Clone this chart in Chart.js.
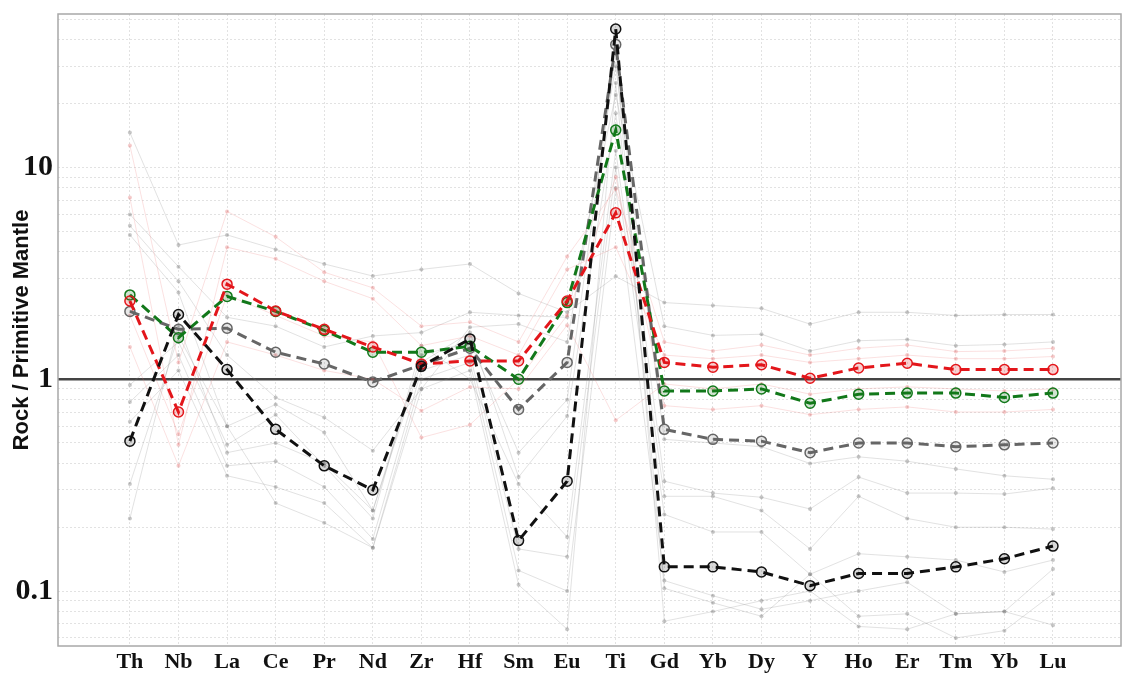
<!DOCTYPE html>
<html>
<head>
<meta charset="utf-8">
<script src="https://cdn.jsdelivr.net/npm/chart.js@4/dist/chart.umd.min.js"></script>
<style>
  html, body { margin: 0; padding: 0; background: #fff; }
  #wrap { width: 1122px; height: 677px; }
</style>
</head>
<body>
<div id="wrap"><canvas id="spider"></canvas></div>
<script>
// element order on the x axis (Yb appears twice in the original)
var elements = ["Th","Nb","La","Ce","Pr","Nd","Zr","Hf","Sm","Eu","Ti","Gd","Yb","Dy","Y","Ho","Er","Tm","Yb","Lu"];

// highlighted samples (rock / primitive mantle)
var blackSample = [0.51, 2.02, 1.11, 0.58, 0.39, 0.30, 1.15, 1.55, 0.173, 0.33, 45, 0.13, 0.13, 0.123, 0.106, 0.121, 0.121, 0.130, 0.142, 0.163];
var redSample   = [2.34, 0.70, 2.81, 2.10, 1.72, 1.42, 1.18, 1.22, 1.22, 2.34, 6.1, 1.20, 1.14, 1.17, 1.01, 1.13, 1.19, 1.11, 1.11, 1.11];
var greenSample = [2.50, 1.57, 2.46, 2.09, 1.70, 1.34, 1.34, 1.43, 1.00, 2.30, 15, 0.88, 0.88, 0.90, 0.77, 0.85, 0.86, 0.86, 0.82, 0.86];
var greySample  = [2.09, 1.72, 1.74, 1.34, 1.18, 0.97, 1.17, 1.40, 0.72, 1.20, 38, 0.58, 0.52, 0.51, 0.45, 0.50, 0.50, 0.48, 0.49, 0.50];

// faint background samples
var faintGreyA = [14.6, 4.3, 4.8, 4.1, 3.5, 3.07, 3.3, 3.5, 2.54, 2.07, 3.06, 2.3, 2.23, 2.16, 1.82, 2.07, 2.07, 2.0, 2.02, 2.02];
var faintGreyB = [6.0, 3.4, 1.96, 1.78, 1.42, 1.6, 1.66, 2.07, 2.0, 1.96, 22, 1.78, 1.61, 1.63, 1.36, 1.52, 1.54, 1.44, 1.46, 1.5];
var faintGreyC = [5.3, 2.9, 1.3, 0.82, 0.66, 0.46, 0.9, 1.76, 1.82, 1.5, 30, 0.52, 0.5, 0.48, 0.4, 0.43, 0.41, 0.377, 0.35, 0.337];
var faintGreyD = [4.8, 2.57, 0.6, 0.76, 0.56, 0.24, 1.2, 1.66, 0.345, 0.67, 18, 0.33, 0.29, 0.277, 0.244, 0.345, 0.29, 0.29, 0.287, 0.306];
var faintGreyE = [0.94, 1.5, 0.49, 0.68, 0.39, 0.22, 1.44, 1.0, 0.32, 0.18, 12, 0.28, 0.28, 0.24, 0.158, 0.28, 0.22, 0.2, 0.2, 0.196];
var faintGreyF = [0.78, 1.3, 0.39, 0.41, 0.31, 0.176, 1.1, 1.3, 0.158, 0.145, 10, 0.23, 0.19, 0.19, 0.12, 0.15, 0.145, 0.14, 0.123, 0.14];
var faintGreyG = [0.63, 1.1, 0.35, 0.31, 0.26, 0.16, 1.0, 1.2, 0.125, 0.1, 8, 0.112, 0.095, 0.082, 0.09, 0.1, 0.11, 0.078, 0.08, 0.127];
var faintGreyH = [0.32, 1.6, 0.6, 0.26, 0.21, 0.16, 0.9, 1.1, 0.107, 0.066, 25, 0.103, 0.088, 0.076, 0.12, 0.076, 0.078, 0.06, 0.065, 0.097];
var faintGreyI = [0.22, 1.8, 0.45, 0.5, 0.4, 0.24, 1.3, 1.5, 0.45, 0.8, 35, 0.072, 0.08, 0.09, 0.1, 0.068, 0.066, 0.078, 0.08, 0.069];
var faintPinkA = [12.7, 1.2, 6.2, 4.7, 3.2, 2.7, 1.78, 1.86, 1.5, 3.8, 7.9, 1.5, 1.36, 1.45, 1.3, 1.4, 1.45, 1.35, 1.36, 1.4];
var faintPinkB = [7.2, 0.49, 4.2, 3.7, 2.9, 2.4, 1.44, 1.6, 1.3, 3.3, 4.2, 1.3, 1.25, 1.3, 1.2, 1.25, 1.3, 1.25, 1.25, 1.28];
var faintPinkC = [1.42, 0.39, 1.5, 1.3, 1.1, 1.0, 0.71, 0.92, 0.9, 1.8, 0.64, 0.95, 0.9, 0.95, 0.85, 0.9, 0.92, 0.9, 0.88, 0.9];
var faintPinkD = [2.0, 0.55, 2.5, 2.0, 1.6, 1.5, 0.53, 0.61, 1.0, 2.0, 9, 0.75, 0.72, 0.75, 0.68, 0.72, 0.74, 0.7, 0.7, 0.72];

var faintGrey = [faintGreyA, faintGreyB, faintGreyC, faintGreyD, faintGreyE, faintGreyF, faintGreyG, faintGreyH, faintGreyI];
var faintPink = [faintPinkA, faintPinkB, faintPinkC, faintPinkD];

function pts(vals) {
  return vals.map(function (v, i) { return {x: i, y: v}; });
}

function mainSet(vals, col, fill) {
  return {
    data: pts(vals),
    borderColor: col,
    borderWidth: 3,
    borderDash: [10, 6],
    pointRadius: 5,
    pointBorderWidth: 1.5,
    pointBorderColor: col,
    pointBackgroundColor: fill,
    tension: 0
  };
}

function faintSet(vals, col, dot) {
  return {
    data: pts(vals),
    borderColor: col,
    borderWidth: 1,
    pointRadius: 2,
    pointBorderWidth: 0,
    pointBackgroundColor: dot,
    tension: 0
  };
}

var datasets = [
  mainSet(blackSample, "#111111", "rgba(0,0,0,0.15)"),
  mainSet(redSample, "#e3161b", "rgba(227,22,27,0.2)"),
  mainSet(greenSample, "#12781a", "rgba(18,120,26,0.2)"),
  mainSet(greySample, "#666666", "rgba(100,100,100,0.15)")
];
faintPink.forEach(function (s) { datasets.push(faintSet(s, "rgba(235,120,120,0.22)", "rgba(225,110,110,0.35)")); });
faintGrey.forEach(function (s) { datasets.push(faintSet(s, "rgba(140,140,140,0.25)", "rgba(120,120,120,0.4)")); });

// log minor grid values between the axis limits
var yMin = 0.055, yMax = 53;
var yGrid = [];
[0.01, 0.1, 1, 10].forEach(function (d) {
  for (var m = 1; m <= 9; m++) {
    var v = +(m * d).toPrecision(3);
    if (v >= yMin && v <= yMax) yGrid.push(v);
  }
});

var frame = {
  id: "frame",
  beforeDatasetsDraw: function (chart) {
    var c = chart.ctx, a = chart.chartArea, y1 = chart.scales.y.getPixelForValue(1);
    c.save();
    c.strokeStyle = "#444";
    c.lineWidth = 2.5;
    c.beginPath();
    c.moveTo(a.left, y1);
    c.lineTo(a.right, y1);
    c.stroke();
    c.restore();
  },
  afterDraw: function (chart) {
    var c = chart.ctx, a = chart.chartArea;
    c.save();
    c.strokeStyle = "#a8a8a8";
    c.lineWidth = 1.5;
    c.strokeRect(a.left, a.top, a.right - a.left, a.bottom - a.top);
    c.restore();
  }
};

new Chart(document.getElementById("spider"), {
  type: "line",
  data: { datasets: datasets },
  plugins: [frame],
  options: {
    responsive: true,
    maintainAspectRatio: false,
    animation: false,
    layout: { autoPadding: false, padding: { top: 14, right: 1, left: 0, bottom: 0 } },
    plugins: { legend: { display: false }, tooltip: { enabled: false } },
    scales: {
      x: {
        type: "linear",
        min: -1.48,
        max: 20.4,
        afterBuildTicks: function (axis) {
          axis.ticks = elements.map(function (_, i) { return {value: i}; });
        },
        afterFit: function (axis) {
          axis.height = 31;
          axis.paddingLeft = 0;
          axis.paddingRight = 0;
        },
        grid: { color: "#e2e2e2", lineWidth: 1, drawTicks: false },
        border: { display: false, dash: [2, 2] },
        ticks: {
          autoSkip: false,
          maxRotation: 0,
          padding: 3,
          color: "#111",
          font: { family: "'Liberation Serif', 'Times New Roman', serif", size: 22, weight: "bold" },
          callback: function (v) { return elements[v]; }
        }
      },
      y: {
        type: "logarithmic",
        min: yMin,
        max: yMax,
        afterBuildTicks: function (axis) {
          axis.ticks = yGrid.map(function (v) { return {value: v}; });
        },
        afterFit: function (axis) {
          axis.width = 58;
          axis.paddingTop = 0;
          axis.paddingBottom = 0;
        },
        grid: { color: "#e2e2e2", lineWidth: 1, drawTicks: false },
        border: { display: false, dash: [2, 2] },
        title: {
          display: true,
          text: "Rock / Primitive Mantle",
          color: "#111",
          padding: { top: 9, bottom: 0 },
          font: { family: "'Liberation Sans', Arial, sans-serif", size: 22, weight: "bold" }
        },
        ticks: {
          autoSkip: false,
          padding: 5,
          color: "#111",
          font: { family: "'Liberation Serif', 'Times New Roman', serif", size: 30, weight: "bold" },
          callback: function (v) {
            var l = Math.log10(v);
            if (Math.abs(l - Math.round(l)) < 1e-9 && v >= 0.1 && v <= 10) return String(v);
            return "";
          }
        }
      }
    }
  }
});
</script>
</body>
</html>
